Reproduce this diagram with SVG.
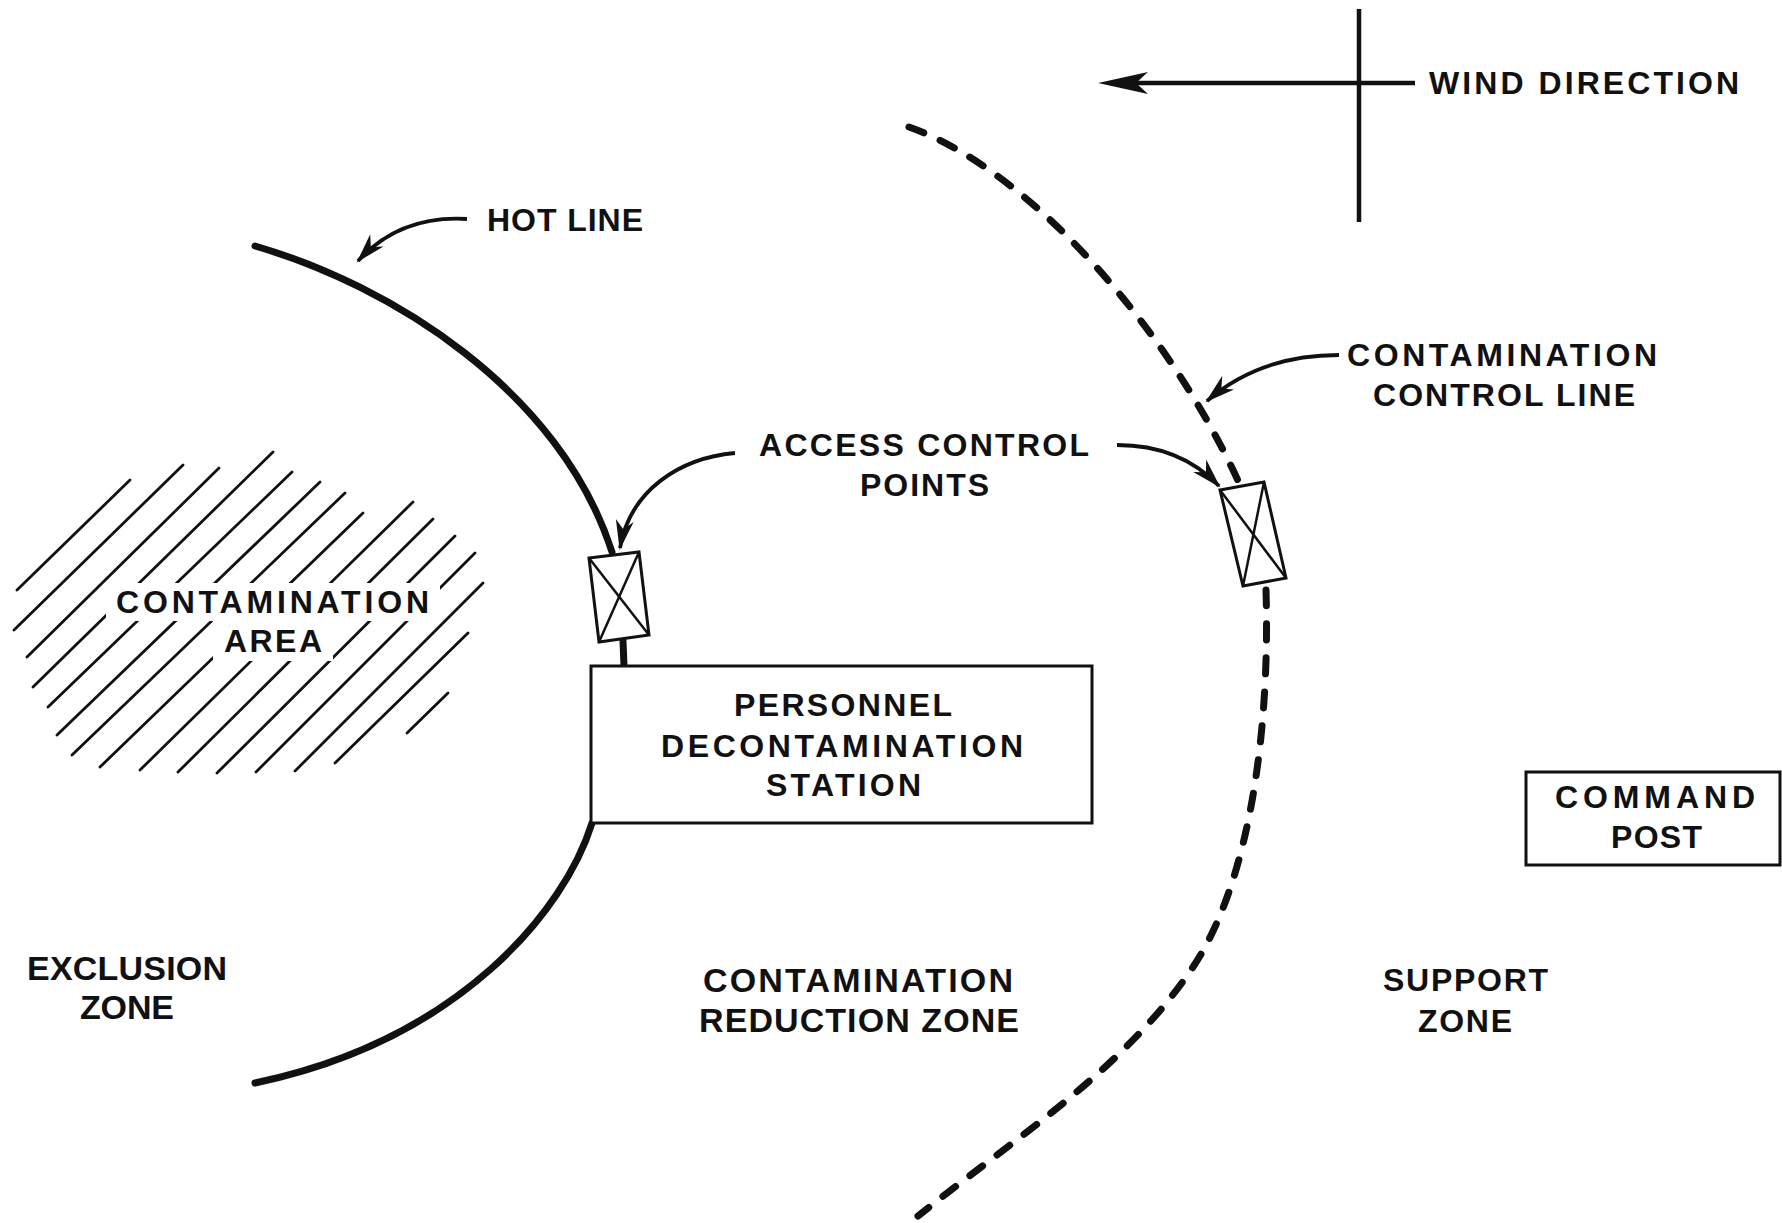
<svg xmlns="http://www.w3.org/2000/svg" width="1782" height="1223" viewBox="0 0 1782 1223">
<style>
text{font-family:'Liberation Sans',Arial,sans-serif;font-weight:bold;font-size:32px;fill:#111}
text.zone{font-size:34px}
.thick{fill:none;stroke:#111;stroke-width:7;stroke-linecap:round}
.dash{fill:none;stroke:#111;stroke-width:7;stroke-linecap:round;stroke-dasharray:16 18}
.box{fill:#fff;stroke:#111;stroke-width:3}
.thin{fill:none;stroke:#111;stroke-width:2.5}
.hatch line{stroke:#111;stroke-width:2.8;stroke-linecap:round}
.arrow{fill:none;stroke:#111;stroke-width:3.8;marker-end:url(#head)}
</style>
<defs>
<marker id="head" markerUnits="userSpaceOnUse" viewBox="-32 -12 36 24" markerWidth="36" markerHeight="24" refX="0" refY="0" orient="auto">
<path d="M2,0 L-28,-9 L-19,0 L-28,9 Z" fill="#111"/>
</marker>
<mask id="hatchmask" maskUnits="userSpaceOnUse" x="0" y="420" width="520" height="380">
<rect x="0" y="420" width="520" height="380" fill="#fff"/>
<rect x="106" y="583" width="334" height="38" fill="#000"/>
<rect x="213" y="621" width="120" height="40" fill="#000"/>
</mask>
</defs>
<rect width="1782" height="1223" fill="#fff"/>

<g id="wind-direction">
<line x1="1359" y1="9" x2="1359" y2="222" stroke="#111" stroke-width="4.5"/>
<line x1="1130" y1="83" x2="1415" y2="83" stroke="#111" stroke-width="4.5"/>
<path d="M1098,83 L1148,72 L1136,83 L1148,94 Z" fill="#111"/>
<text x="1429" y="94" textLength="310" lengthAdjust="spacing">WIND DIRECTION</text>
</g>

<g id="hot-line">
<path class="thick" d="M255,246 C390,285 560,390 612,552"/>
<path class="thick" d="M623,641 L624,666"/>
<path class="thick" d="M592,823 C565,910 460,1040 255,1083"/>
<text x="487" y="231" textLength="156" lengthAdjust="spacing">HOT LINE</text>
</g>

<g id="contamination-control-line">
<path class="dash" d="M909,127 C1030,170 1170,330 1240,485"/>
<path class="dash" d="M1266,590 C1270,717 1253,877 1193,967 C1124,1070 1015,1138 918,1216"/>
<text x="1347" y="366" textLength="310" lengthAdjust="spacing">CONTAMINATION</text>
<text x="1373" y="406" textLength="262" lengthAdjust="spacing">CONTROL LINE</text>
</g>

<g id="contamination-area">
<g class="hatch" mask="url(#hatchmask)">
<line x1="17" y1="590" x2="130" y2="480"/>
<line x1="14" y1="630" x2="183" y2="465"/>
<line x1="27" y1="657" x2="219" y2="468"/>
<line x1="33" y1="687" x2="273" y2="452"/>
<line x1="48" y1="707" x2="292" y2="472"/>
<line x1="57" y1="735" x2="320" y2="482"/>
<line x1="72" y1="755" x2="345" y2="493"/>
<line x1="100" y1="767" x2="363" y2="513"/>
<line x1="140" y1="770" x2="413" y2="502"/>
<line x1="178" y1="772" x2="433" y2="519"/>
<line x1="217" y1="773" x2="455" y2="536"/>
<line x1="256" y1="772" x2="475" y2="553"/>
<line x1="295" y1="771" x2="483" y2="583"/>
<line x1="335" y1="763" x2="468" y2="633"/>
<line x1="407" y1="733" x2="448" y2="693"/>
</g>
<text x="116" y="613" textLength="313" lengthAdjust="spacing">CONTAMINATION</text>
<text x="224" y="652" textLength="98" lengthAdjust="spacing">AREA</text>
</g>

<g id="access-control-point-1">
<polygon class="box" points="589,558 639,552 649,635 599,642"/>
<line class="thin" x1="589" y1="558" x2="649" y2="635"/>
<line class="thin" x1="639" y1="552" x2="599" y2="642"/>
</g>

<g id="access-control-point-2">
<polygon class="box" points="1220,490 1264,482 1286,578 1243,586"/>
<line class="thin" x1="1220" y1="490" x2="1286" y2="578"/>
<line class="thin" x1="1264" y1="482" x2="1243" y2="586"/>
</g>

<g id="access-control-points-label">
<text x="759" y="456" textLength="330" lengthAdjust="spacing">ACCESS CONTROL</text>
<text x="860" y="496" textLength="129" lengthAdjust="spacing">POINTS</text>
</g>

<g id="personnel-decontamination-station">
<rect class="box" x="591" y="666" width="501" height="157"/>
<text x="734" y="716" textLength="218" lengthAdjust="spacing">PERSONNEL</text>
<text x="661" y="757" textLength="362" lengthAdjust="spacing">DECONTAMINATION</text>
<text x="766" y="796" textLength="155" lengthAdjust="spacing">STATION</text>
</g>

<g id="command-post">
<rect class="box" x="1526" y="772" width="254" height="93"/>
<text x="1555" y="808" textLength="200" lengthAdjust="spacing">COMMAND</text>
<text x="1611" y="848" textLength="91" lengthAdjust="spacing">POST</text>
</g>

<g id="exclusion-zone">
<text class="zone" x="27" y="980" textLength="200" lengthAdjust="spacing">EXCLUSION</text>
<text class="zone" x="80" y="1019" textLength="94" lengthAdjust="spacing">ZONE</text>
</g>

<g id="contamination-reduction-zone">
<text class="zone" x="703" y="992" textLength="310" lengthAdjust="spacing">CONTAMINATION</text>
<text class="zone" x="699" y="1032" textLength="320" lengthAdjust="spacing">REDUCTION ZONE</text>
</g>

<g id="support-zone">
<text x="1383" y="991" textLength="165" lengthAdjust="spacing">SUPPORT</text>
<text x="1418" y="1032" textLength="94" lengthAdjust="spacing">ZONE</text>
</g>

<g id="connectors">
<path class="arrow" d="M467,219 Q400,215 358,261"/>
<path class="arrow" d="M735,453 C680,458 630,490 620,548"/>
<path class="arrow" d="M1117,445 Q1180,445 1219,486"/>
<path class="arrow" d="M1339,355 Q1260,355 1207,401"/>
</g>
</svg>
